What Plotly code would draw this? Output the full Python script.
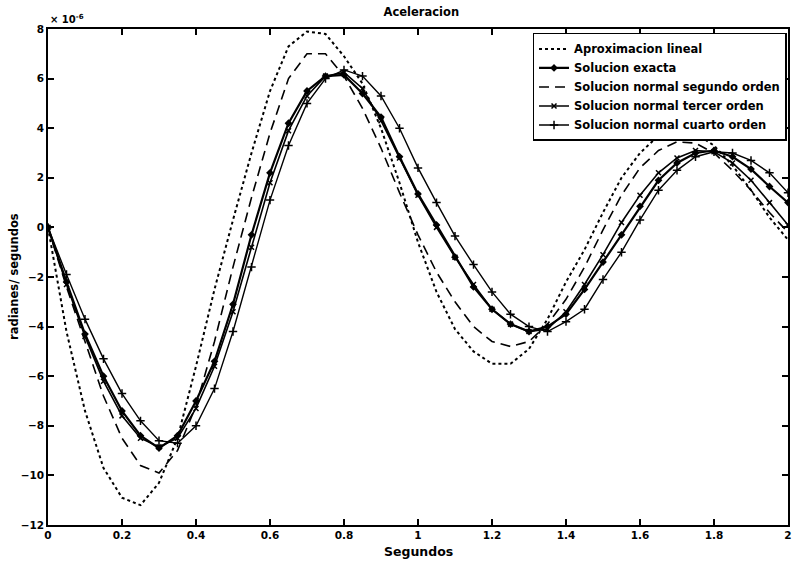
import plotly.graph_objects as go

x = [round(i * 0.05, 2) for i in range(41)]

lineal = [0, -4.2, -7.4, -9.7, -10.9, -11.2, -10.3, -8.5, -5.6, -2.5,
          0.3, 3.0, 5.5, 7.3, 7.9, 7.8, 6.9, 5.8, 4.0, 1.8,
          -0.6, -2.6, -4.1, -5.0, -5.5, -5.5, -4.9, -3.7, -2.2, -0.9,
          0.6, 2.0, 3.0, 3.7, 3.85, 3.8, 3.3, 2.5, 1.5, 0.4, -0.5]

exacta = [0, -2.2, -4.3, -6.0, -7.4, -8.4, -8.9, -8.4, -7.0, -5.4,
          -3.1, -0.3, 2.2, 4.2, 5.5, 6.1, 6.15, 5.4, 4.45, 2.85,
          1.35, 0.1, -1.2, -2.4, -3.3, -3.9, -4.2, -4.0, -3.5, -2.5,
          -1.4, -0.3, 0.85, 1.9, 2.6, 3.0, 3.1, 2.85, 2.35, 1.65, 1.0]

segundo = [0, -2.4, -4.6, -6.8, -8.5, -9.6, -9.9, -9.0, -7.2, -4.6,
           -1.6, 1.2, 3.8, 6.0, 7.0, 7.0, 6.1, 4.8, 3.2, 1.4,
           -0.3, -1.8, -3.0, -4.0, -4.6, -4.8, -4.6, -3.9, -2.9, -1.6,
           -0.1, 1.3, 2.4, 3.1, 3.45, 3.4, 3.0, 2.3, 1.5, 0.6, -0.2]

tercer = [0, -2.3, -4.4, -6.2, -7.6, -8.5, -8.85, -8.5, -7.3, -5.6,
          -3.4, -0.8, 1.8, 3.9, 5.3, 6.1, 6.25, 5.6, 4.3, 2.8,
          1.3, 0.0, -1.2, -2.3, -3.3, -3.9, -4.2, -4.1, -3.4, -2.3,
          -1.1, 0.2, 1.3, 2.2, 2.8, 3.1, 3.05, 2.6, 1.9, 1.0, 0.1]

cuarto = [0, -1.9, -3.7, -5.3, -6.7, -7.8, -8.6, -8.7, -8.0, -6.5,
          -4.2, -1.6, 1.1, 3.3, 5.0, 6.0, 6.35, 6.1, 5.3, 4.0,
          2.4, 1.0, -0.35, -1.5, -2.6, -3.5, -4.0, -4.2, -3.8, -3.3,
          -2.1, -1.0, 0.3, 1.5, 2.3, 2.85, 3.05, 3.0, 2.7, 2.2, 1.4]

names = ["Aproximacion lineal", "Solucion exacta", "Solucion normal segundo orden",
         "Solucion normal tercer orden", "Solucion normal cuarto orden"]

x_ticks = [0, 0.2, 0.4, 0.6, 0.8, 1, 1.2, 1.4, 1.6, 1.8, 2]
x_labels = ["0", "0.2", "0.4", "0.6", "0.8", "1", "1.2", "1.4", "1.6", "1.8", "2"]
y_ticks = [-12, -10, -8, -6, -4, -2, 0, 2, 4, 6, 8]

fig = go.Figure()
fig.add_trace(go.Scatter(x=x, y=lineal, name=names[0], mode="lines",
                         line=dict(color="black", width=2, dash="dot")))
fig.add_trace(go.Scatter(x=x, y=exacta, name=names[1], mode="lines+markers",
                         line=dict(color="black", width=2.2),
                         marker=dict(symbol="diamond", size=6, color="black")))
fig.add_trace(go.Scatter(x=x, y=segundo, name=names[2], mode="lines",
                         line=dict(color="black", width=1.6, dash="10px,6px")))
fig.add_trace(go.Scatter(x=x, y=tercer, name=names[3], mode="lines+markers",
                         line=dict(color="black", width=1.6),
                         marker=dict(symbol="x-thin", size=5, color="black",
                                     line=dict(color="black", width=1.5))))
fig.add_trace(go.Scatter(x=x, y=cuarto, name=names[4], mode="lines+markers",
                         line=dict(color="black", width=1.4),
                         marker=dict(symbol="cross-thin", size=6, color="black",
                                     line=dict(color="black", width=1.5))))

fnt = dict(family="DejaVu Sans", color="black", weight="bold")

fig.update_layout(
    width=792, height=564,
    margin=dict(l=48, r=4, t=29, b=39, autoexpand=False),
    paper_bgcolor="white", plot_bgcolor="white",
    title=dict(text="Aceleracion", x=0.532, xanchor="center",
               y=0.979, yref="container", yanchor="middle",
               font=dict(size=11.5, **fnt)),
    showlegend=True,
    legend=dict(x=0.998, y=0.992, xanchor="right", yanchor="top",
                bordercolor="black", borderwidth=1.5, bgcolor="white",
                font=dict(size=11.5, **fnt), tracegroupgap=0,
                itemwidth=30),
    xaxis=dict(range=[0, 2], tickvals=x_ticks, ticktext=x_labels,
               ticks="inside", ticklen=6, tickwidth=1.5, tickcolor="black",
               showline=True, linecolor="black", linewidth=1.5, mirror="ticks",
               showgrid=False, zeroline=False, automargin=False,
               ticklabeloverflow="allow",
               tickfont=dict(size=10.5, **fnt)),
    yaxis=dict(range=[-12, 8], tickvals=y_ticks,
               ticks="inside", ticklen=6, tickwidth=1.5, tickcolor="black",
               showline=True, linecolor="black", linewidth=1.5, mirror="ticks",
               showgrid=False, zeroline=False, automargin=False,
               ticklabeloverflow="allow",
               tickfont=dict(size=10.5, **fnt)),
    annotations=[
        dict(text="× 10<sup>-6</sup>", xref="paper", yref="paper",
             x=0.0, y=1.0, xanchor="left", yanchor="bottom", showarrow=False,
             xshift=0, yshift=2, font=dict(size=10, **fnt)),
        dict(text="Segundos", xref="paper", yref="paper", x=0.5, y=0,
             xanchor="center", yanchor="top", yshift=-17, showarrow=False,
             font=dict(size=12.5, **fnt)),
        dict(text="radianes/ segundos", xref="paper", yref="paper", x=0, y=0.5,
             xanchor="right", yanchor="middle", xshift=-25, textangle=-90,
             showarrow=False, font=dict(size=11.5, **fnt)),
    ],
)

fig.write_html(
    "out.html",
    config={"displayModeBar": False},
    post_script="document.body.style.margin='0';"
                "document.documentElement.style.overflow='hidden';",
)
